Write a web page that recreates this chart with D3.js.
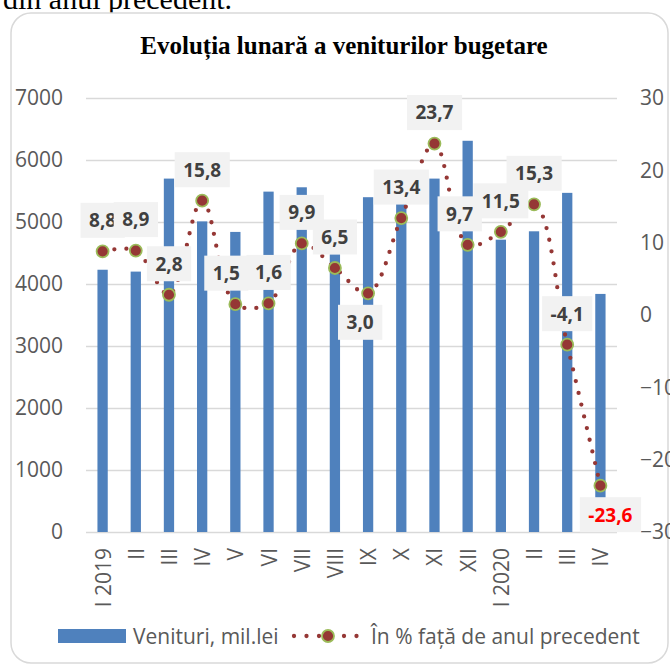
<!DOCTYPE html>
<html>
<head>
<meta charset="utf-8">
<script src="https://cdn.jsdelivr.net/npm/d3@7"></script>
<style>
    body { margin: 0; background: #fff; }
    .axis text { font-family: 'Open Sans', sans-serif; font-size: 21px; fill: #595959; }
    .grid line { stroke: #D9D9D9; stroke-width: 1.3; }
    .data-label { font-family: 'Open Sans', sans-serif; font-size: 19px; font-weight: bold; fill: #404040; }
    .legend-text { font-family: 'Open Sans', sans-serif; font-size: 21px; fill: #595959; }
</style>
</head>
<body>
<div id="chart"></div>
<script>
// months of the period
const months = ['I 2019', 'II', 'III', 'IV', 'V', 'VI', 'VII', 'VIII', 'IX', 'X', 'XI', 'XII', 'I 2020', 'II', 'III', 'IV'];
// Venituri, mil.lei
const revenues = [4230, 4200, 5700, 5010, 4840, 5490, 5560, 4480, 5400, 5300, 5700, 6310, 4715, 4850, 5470, 3840];
// In % fata de anul precedent
const growth = [8.8, 8.9, 2.8, 15.8, 1.5, 1.6, 9.9, 6.5, 3.0, 13.4, 23.7, 9.7, 11.5, 15.3, -4.1, -23.6];
const leftTicks = [0, 1000, 2000, 3000, 4000, 5000, 6000, 7000];
const rightTicks = [-30, -20, -10, 0, 10, 20, 30];

class ComboChart {
    constructor(_config) {
        this.config = {
            parentElement: _config.parentElement,
            containerWidth: _config.containerWidth || 670,
            containerHeight: _config.containerHeight || 666,
            margin: _config.margin || { top: 98, right: 53, bottom: 134, left: 86 },
            // labels placed under the point, and small sideways shifts (Excel auto placement)
            labelsBelow: [8, 15],
            labelShift: { 4: -9, 8: -8, 11: -8, 15: 10 }
        };
        this.initVis();
    }

    initVis() {
        let vis = this;

        vis.width = vis.config.containerWidth - vis.config.margin.left - vis.config.margin.right;
        vis.height = vis.config.containerHeight - vis.config.margin.top - vis.config.margin.bottom;

        vis.svg = d3.select(vis.config.parentElement).append('svg')
            .attr('width', vis.config.containerWidth)
            .attr('height', vis.config.containerHeight);

        // text of the document above the chart, cut by the crop
        vis.svg.append('text')
            .attr('x', 3)
            .attr('y', 9)
            .style('font-family', "'Liberation Serif', serif")
            .style('font-size', '30px')
            .attr('fill', '#000')
            .text('din anul precedent.');

        // chart frame
        vis.svg.append('rect')
            .attr('x', 11)
            .attr('y', 13)
            .attr('width', 657)
            .attr('height', 650)
            .attr('rx', 20)
            .attr('fill', '#fff')
            .attr('stroke', '#D9D9D9')
            .attr('stroke-width', 1.5);

        vis.svg.append('text')
            .attr('x', 344)
            .attr('y', 54)
            .attr('text-anchor', 'middle')
            .style('font-family', "'Liberation Serif', serif")
            .style('font-size', '25px')
            .style('font-weight', 'bold')
            .attr('fill', '#000')
            .text('Evoluția lunară a veniturilor bugetare');

        vis.xScale = d3.scaleBand()
            .domain(d3.range(months.length))
            .range([0, vis.width]);

        vis.yScale = d3.scaleLinear()
            .domain([0, 7000])
            .range([vis.height, 0]);

        vis.y2Scale = d3.scaleLinear()
            .domain([-30, 30])
            .range([vis.height, 0]);

        vis.chart = vis.svg.append('g')
            .attr('transform', `translate(${vis.config.margin.left},${vis.config.margin.top})`);

        vis.yAxisG = vis.chart.append('g').attr('class', 'axis grid');
        vis.y2AxisG = vis.chart.append('g').attr('class', 'axis')
            .attr('transform', `translate(${vis.width},0)`);
        vis.xAxisG = vis.chart.append('g').attr('class', 'axis');

        vis.renderVis();
    }

    renderVis() {
        let vis = this;

        // gridlines + left axis
        vis.yAxisG
            .call(d3.axisLeft(vis.yScale).tickValues(leftTicks).tickFormat(d3.format('d'))
                .tickSize(-vis.width).tickPadding(23))
            .call(g => g.select('.domain').remove());

        vis.y2AxisG
            .call(d3.axisRight(vis.y2Scale).tickValues(rightTicks).tickFormat(d3.format('d'))
                .tickSize(0).tickPadding(23))
            .call(g => g.select('.domain').remove());

        // month labels, rotated
        vis.xAxisG.selectAll('text')
            .data(months)
            .join('text')
            .attr('text-anchor', 'end')
            .attr('transform', (d, i) => `translate(${vis.xScale(i) + vis.xScale.bandwidth() / 2 + 8},${vis.height + 16}) rotate(-90)`)
            .text(d => d);

        // bars
        const barW = vis.xScale.bandwidth() * 0.31;
        vis.chart.selectAll('.bar')
            .data(revenues)
            .join('rect')
            .attr('class', 'bar')
            .attr('x', (d, i) => vis.xScale(i) + (vis.xScale.bandwidth() - barW) / 2)
            .attr('width', barW)
            .attr('y', d => vis.yScale(d))
            .attr('height', d => vis.height - vis.yScale(d))
            .attr('fill', '#4F81BD');

        const cx = i => vis.xScale(i) + vis.xScale.bandwidth() / 2;

        // smoothed dotted line
        const line = d3.line()
            .x((d, i) => cx(i))
            .y(d => vis.y2Scale(d))
            .curve(d3.curveCatmullRom.alpha(0.5));

        vis.chart.append('path')
            .datum(growth)
            .attr('d', line)
            .attr('fill', 'none')
            .attr('stroke', '#953735')
            .attr('stroke-width', 4.3)
            .attr('stroke-linecap', 'round')
            .attr('stroke-dasharray', '0,12');

        vis.chart.selectAll('.point')
            .data(growth)
            .join('circle')
            .attr('class', 'point')
            .attr('cx', (d, i) => cx(i))
            .attr('cy', d => vis.y2Scale(d))
            .attr('r', 6)
            .attr('fill', '#953735')
            .attr('stroke', '#9BBB59')
            .attr('stroke-width', 1.8);

        // data labels in grey boxes
        const labels = vis.chart.selectAll('.label')
            .data(growth)
            .join('g')
            .attr('class', 'label')
            .attr('transform', (d, i) => {
                const below = vis.config.labelsBelow.includes(i);
                const dx = vis.config.labelShift[i] || 0;
                return `translate(${cx(i) + dx},${vis.y2Scale(d) + (below ? 29 : -31)})`;
            });

        labels.append('text')
            .attr('class', 'data-label')
            .attr('text-anchor', 'middle')
            .attr('dy', '0.36em')
            .style('fill', d => d < -20 ? '#FF0000' : '#404040')
            .text(d => d.toFixed(1).replace('.', ','));

        labels.each(function () {
            const g = d3.select(this);
            const bb = g.select('text').node().getBBox();
            g.insert('rect', 'text')
                .attr('x', bb.x - 8.5)
                .attr('y', -17.5)
                .attr('width', bb.width + 17)
                .attr('height', 35)
                .attr('fill', '#F2F2F2');
        });

        // legend
        const legend = vis.svg.append('g');
        legend.append('rect')
            .attr('x', 58).attr('y', 629)
            .attr('width', 68).attr('height', 14)
            .attr('fill', '#4F81BD');
        legend.append('text')
            .attr('class', 'legend-text')
            .attr('x', 133).attr('y', 636).attr('dy', '0.36em')
            .text('Venituri, mil.lei');
        legend.append('line')
            .attr('x1', 294).attr('x2', 362)
            .attr('y1', 636).attr('y2', 636)
            .attr('stroke', '#953735')
            .attr('stroke-width', 4.3)
            .attr('stroke-linecap', 'round')
            .attr('stroke-dasharray', '0,12.5');
        legend.append('circle')
            .attr('cx', 328).attr('cy', 636).attr('r', 6)
            .attr('fill', '#953735')
            .attr('stroke', '#9BBB59')
            .attr('stroke-width', 1.8);
        legend.append('text')
            .attr('class', 'legend-text')
            .attr('x', 371).attr('y', 636).attr('dy', '0.36em')
            .text('În % față de anul precedent');
    }
}

new ComboChart({ parentElement: '#chart' });
</script>
</body>
</html>
